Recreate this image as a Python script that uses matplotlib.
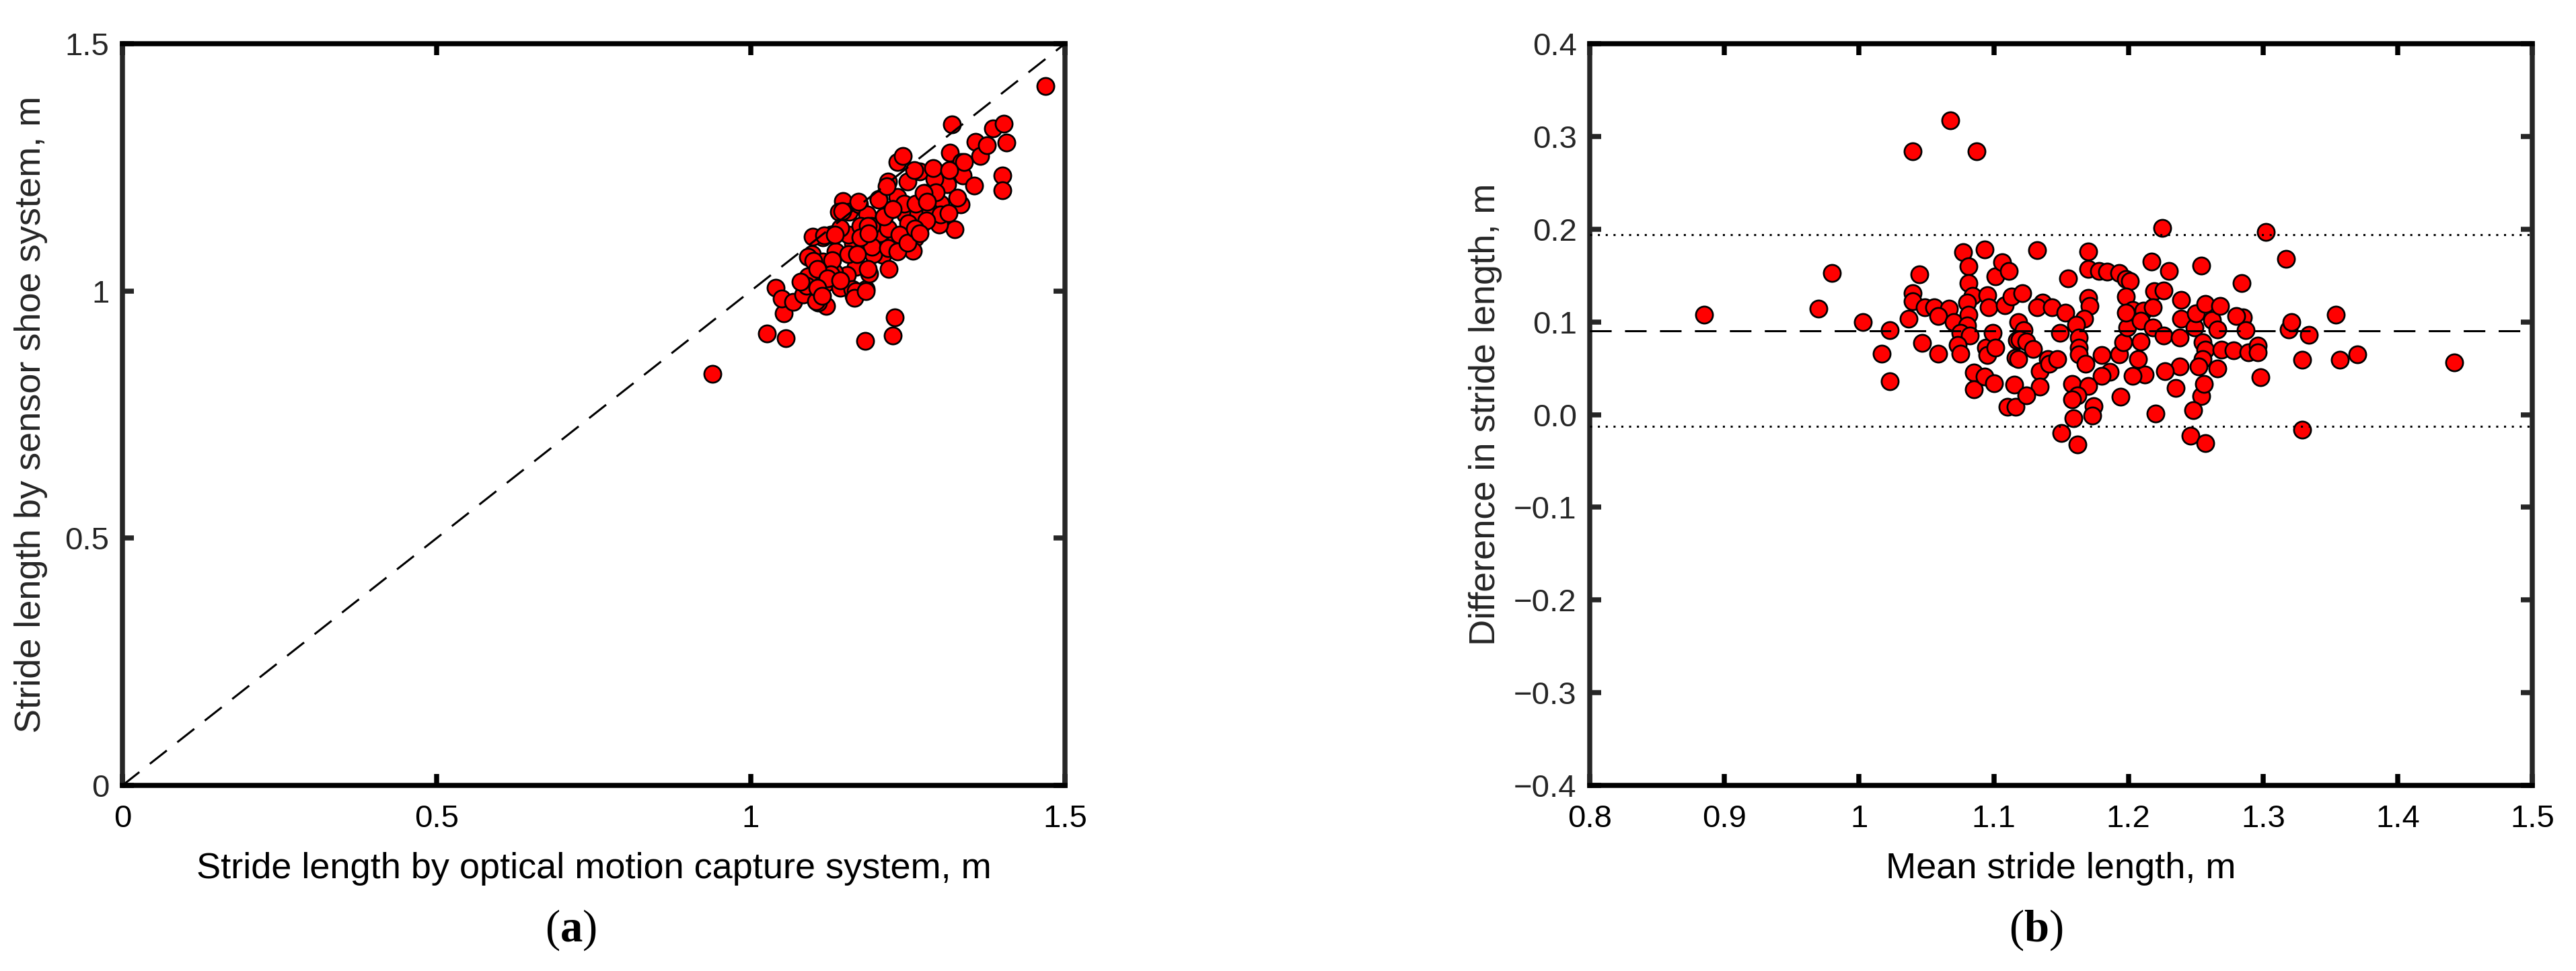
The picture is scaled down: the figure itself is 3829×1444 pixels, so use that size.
import numpy as np
import matplotlib
matplotlib.use("Agg")
import matplotlib.pyplot as plt
from matplotlib.ticker import FuncFormatter

# (a) stride length: optical motion capture vs sensor shoe
optical = [1.469, 0.939, 1.026, 1.056, 1.182, 1.226, 1.229, 1.052, 1.040, 1.049,
           1.068, 1.120, 1.107, 1.084, 1.091, 1.098, 1.115, 1.133, 1.147, 1.140,
           1.156, 1.172, 1.185, 1.203, 1.212, 1.233, 1.246, 1.267, 1.219, 1.249,
           1.234, 1.242, 1.320, 1.358, 1.365, 1.376, 1.385, 1.403, 1.407, 1.317,
           1.335, 1.337, 1.355, 1.401, 1.400, 1.334, 1.325, 1.300, 1.302, 1.295,
           1.304, 1.291, 1.269, 1.277, 1.313, 1.292, 1.261, 1.258, 1.231, 1.210,
           1.220, 1.195, 1.206, 1.218, 1.183, 1.164, 1.189, 1.167, 1.147, 1.129,
           1.128, 1.119, 1.107, 1.091, 1.163, 1.182, 1.155, 1.142, 1.175, 1.192,
           1.193, 1.153, 1.089, 1.079, 1.104, 1.142, 1.162, 1.186, 1.133, 1.115,
           1.100, 1.135, 1.155, 1.169, 1.127, 1.186, 1.226, 1.244, 1.262, 1.277,
           1.295, 1.286, 1.302, 1.269, 1.251, 1.237, 1.218, 1.233, 1.249, 1.280,
           1.315, 1.329, 1.340, 1.260, 1.290, 1.316, 1.261, 1.269, 1.167, 1.165,
           1.130, 1.128, 1.106, 1.099, 1.117, 1.134, 1.175, 1.187, 1.146, 1.171,
           1.204, 1.212, 1.226, 1.275, 1.281, 1.122, 1.106, 1.142, 1.114, 1.183,
           1.216]
sensor = [1.414, 0.832, 0.914, 0.904, 0.899, 0.910, 0.946, 0.954, 1.007, 0.985,
          0.978, 0.969, 0.976, 0.993, 1.030, 1.075, 1.109, 1.115, 1.182, 1.160,
          1.160, 1.175, 1.155, 1.186, 1.149, 1.190, 1.154, 1.157, 1.221, 1.221,
          1.260, 1.273, 1.337, 1.302, 1.273, 1.295, 1.329, 1.338, 1.300, 1.279,
          1.260, 1.234, 1.213, 1.234, 1.203, 1.175, 1.125, 1.134, 1.177, 1.203,
          1.237, 1.244, 1.241, 1.198, 1.216, 1.226, 1.107, 1.081, 1.109, 1.073,
          1.044, 1.075, 1.117, 1.126, 1.004, 0.990, 1.035, 1.049, 1.021, 1.059,
          1.030, 1.016, 1.044, 1.069, 1.096, 1.103, 1.114, 1.128, 1.131, 1.132,
          1.089, 1.032, 1.010, 1.018, 0.979, 1.007, 1.004, 1.044, 1.038, 1.059,
          1.061, 1.080, 1.075, 1.075, 1.114, 1.131, 1.165, 1.176, 1.176, 1.196,
          1.200, 1.159, 1.154, 1.126, 1.137, 1.114, 1.086, 1.080, 1.097, 1.142,
          1.157, 1.188, 1.261, 1.244, 1.248, 1.244, 1.126, 1.117, 0.999, 0.986,
          1.062, 1.033, 1.044, 1.110, 1.112, 1.114, 1.108, 1.117, 1.162, 1.180,
          1.185, 1.150, 1.166, 1.198, 1.180, 1.026, 1.006, 1.021, 0.990, 0.999,
          1.212]

# (b) Bland-Altman: mean stride length vs difference
mean_len = [0.885, 0.970, 0.980, 1.003, 1.023, 1.017, 1.023, 1.040, 1.068, 1.087,
            1.045, 1.040, 1.040, 1.037, 1.047, 1.059, 1.049, 1.056, 1.067, 1.059,
            1.070, 1.077, 1.081, 1.081, 1.084, 1.080, 1.081, 1.080, 1.075, 1.082,
            1.073, 1.075, 1.085, 1.085, 1.093, 1.093, 1.095, 1.096, 1.094, 1.095,
            1.099, 1.101, 1.100, 1.101, 1.106, 1.111, 1.108, 1.113, 1.110, 1.116,
            1.115, 1.116, 1.117, 1.118, 1.132, 1.121, 1.136, 1.132, 1.143, 1.122,
            1.119, 1.124, 1.129, 1.118, 1.140, 1.134, 1.141, 1.134, 1.124,
            1.225, 1.302, 1.317, 1.284, 1.254, 1.230, 1.217, 1.170, 1.155, 1.170,
            1.178, 1.184, 1.193, 1.198, 1.201, 1.198, 1.219, 1.226, 1.170, 1.171,
            1.167, 1.153, 1.161, 1.149, 1.163, 1.163, 1.163, 1.147, 1.168, 1.180,
            1.193, 1.196, 1.199, 1.203, 1.198, 1.211, 1.218, 1.209, 1.209, 1.218,
            1.226, 1.238, 1.239, 1.239, 1.249, 1.250, 1.257, 1.262, 1.268, 1.266,
            1.255, 1.257, 1.269, 1.278, 1.255, 1.252, 1.266, 1.238, 1.227, 1.212,
            1.203, 1.207, 1.186, 1.180, 1.158, 1.170, 1.162, 1.158, 1.174, 1.173,
            1.159, 1.150, 1.162, 1.194, 1.220, 1.235, 1.254, 1.256, 1.248, 1.246,
            1.257, 1.298, 1.285, 1.280, 1.287, 1.289, 1.296, 1.296, 1.319, 1.321,
            1.334, 1.329, 1.357, 1.370, 1.354, 1.329, 1.442]
diff_len = [0.108, 0.114, 0.153, 0.100, 0.091, 0.066, 0.036, 0.284, 0.317, 0.284,
            0.151, 0.131, 0.122, 0.103, 0.077, 0.066, 0.116, 0.116, 0.114, 0.106,
            0.100, 0.175, 0.160, 0.142, 0.128, 0.121, 0.108, 0.096, 0.088, 0.085,
            0.075, 0.066, 0.045, 0.027, 0.041, 0.178, 0.129, 0.116, 0.072, 0.064,
            0.088, 0.072, 0.034, 0.149, 0.164, 0.155, 0.118, 0.127, 0.008, 0.008,
            0.032, 0.061, 0.080, 0.100, 0.177, 0.131, 0.121, 0.116, 0.116, 0.091,
            0.081, 0.079, 0.071, 0.060, 0.060, 0.047, 0.055, 0.030, 0.021,
            0.201, 0.197, 0.168, 0.142, 0.161, 0.155, 0.165, 0.176, 0.147, 0.157,
            0.155, 0.154, 0.153, 0.146, 0.144, 0.127, 0.133, 0.134, 0.126, 0.117,
            0.103, 0.110, 0.097, 0.088, 0.083, 0.072, 0.065, 0.060, 0.055, 0.064,
            0.065, 0.078, 0.094, 0.113, 0.110, 0.112, 0.116, 0.101, 0.079, 0.094,
            0.085, 0.083, 0.103, 0.124, 0.094, 0.109, 0.119, 0.102, 0.117, 0.092,
            0.078, 0.070, 0.070, 0.069, 0.060, 0.052, 0.050, 0.052, 0.047, 0.043,
            0.042, 0.060, 0.046, 0.042, 0.033, 0.031, 0.021, 0.016, 0.009, -0.001,
            -0.004, -0.020, -0.032, 0.019, 0.001, 0.029, 0.020, 0.033, 0.005, -0.023,
            -0.031, 0.040, 0.105, 0.106, 0.091, 0.067, 0.074, 0.067, 0.092, 0.100,
            0.086, 0.059, 0.059, 0.065, 0.108, -0.016, 0.056]

bias = 0.090
loa_upper = 0.194
loa_lower = -0.013

DARK = "#262626"
TICK_FS = 34
LABEL_FS = 39

plt.rcParams["font.family"] = ["Liberation Sans", "DejaVu Sans"]
plt.rcParams["mathtext.fontset"] = "custom"
plt.rcParams["mathtext.rm"] = "Liberation Serif"
plt.rcParams["mathtext.bf"] = "Liberation Serif:bold"

fig = plt.figure(figsize=(38.3, 14.44), dpi=100)
ax1 = fig.add_axes([0.0475, 0.1911, 0.3658, 0.7639])
ax2 = fig.add_axes([0.6170, 0.1911, 0.3658, 0.7639])

mk = dict(s=330, c="#ff0000", edgecolors="black", linewidths=1.95, zorder=2)
dash = (0, (10.5, 6.5))


def fmt_g(v, p):
    return ("%g" % (round(v, 2) + 0.0)).replace("-", "\u2212")


def fmt_1f(v, p):
    return ("%.1f" % (round(v, 1) + 0.0)).replace("-", "\u2212")


def style(ax):
    for side in ["left", "right"]:
        ax.spines[side].set_color(DARK)
    for side in ["top", "bottom"]:
        ax.spines[side].set_color("black")
    for sp in ax.spines.values():
        sp.set_linewidth(5.4)
    ax.tick_params(direction="in", length=12.5, width=5.4, top=True, right=True,
                   labelsize=TICK_FS)
    ax.tick_params(axis="y", colors=DARK, pad=14)
    ax.tick_params(axis="x", colors="black", pad=20)
    ax.xaxis.set_major_formatter(FuncFormatter(fmt_g))


# panel (a)
ax1.scatter(optical, sensor, **mk)
ax1.plot([0, 1.5], [0, 1.5], color="black", lw=2.2, ls=dash, zorder=3)
ax1.set_xlim(0, 1.5)
ax1.set_ylim(0, 1.5)
ax1.set_xticks([0, 0.5, 1, 1.5])
ax1.set_yticks([0, 0.5, 1, 1.5])
style(ax1)
ax1.yaxis.set_major_formatter(FuncFormatter(fmt_g))
ax1.set_xlabel("Stride length by optical motion capture system, m",
               fontsize=LABEL_FS, va="center")
ax1.set_ylabel("Stride length by sensor shoe system, m", fontsize=LABEL_FS,
               va="center", color=DARK)
ax1.xaxis.set_label_coords(0.5, -0.112)
ax1.yaxis.set_label_coords(-0.097, 0.5)

# panel (b)
ax2.scatter(mean_len, diff_len, **mk)
ax2.axhline(bias, color="black", lw=2.2, ls=dash, zorder=3)
ax2.axhline(loa_upper, color="black", lw=2.2, ls=(0, (1, 2.8)), zorder=3)
ax2.axhline(loa_lower, color="black", lw=2.2, ls=(0, (1, 2.8)), zorder=3)
ax2.set_xlim(0.8, 1.5)
ax2.set_ylim(-0.4, 0.4)
ax2.set_xticks(np.arange(0.8, 1.51, 0.1))
ax2.set_yticks(np.arange(-0.4, 0.41, 0.1))
style(ax2)
ax2.yaxis.set_major_formatter(FuncFormatter(fmt_1f))
ax2.set_xlabel("Mean stride length, m", fontsize=LABEL_FS, va="center")
ax2.set_ylabel("Difference in stride length, m", fontsize=LABEL_FS,
               va="center", color=DARK)
ax2.xaxis.set_label_coords(0.5, -0.112)
ax2.yaxis.set_label_coords(-0.111, 0.5)

# sub-figure captions
for xpos, letter in [(848 / 3830, "a"), (3026 / 3830, "b")]:
    fig.text(xpos, 1 - 1383 / 1444, r"($\mathbf{" + letter + r"}$)",
             fontsize=48, ha="center", va="center", family="Liberation Serif")

fig.savefig("out.png", dpi=100)
